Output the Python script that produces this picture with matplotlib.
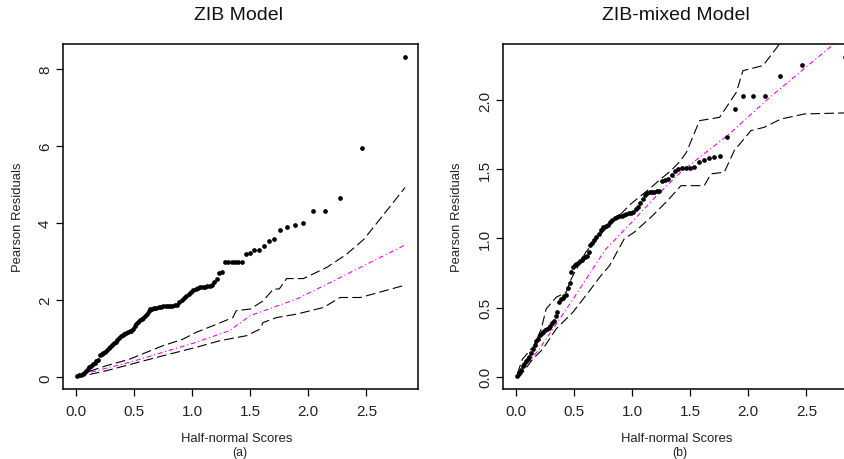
import matplotlib
matplotlib.use("Agg")
import matplotlib.pyplot as plt

plt.rcParams['font.family'] = ['Liberation Sans', 'DejaVu Sans']
plt.rcParams['lines.scale_dashes'] = False

# ---------------- data ----------------
# half-normal scores (shared by both panels)
scores = [0.01, 0.025, 0.04, 0.055, 0.07, 0.085, 0.10, 0.115, 0.13, 0.145,
          0.16, 0.175, 0.19, 0.205, 0.22, 0.235, 0.25, 0.265, 0.28, 0.295,
          0.31, 0.325, 0.34, 0.355, 0.37, 0.385, 0.40, 0.415, 0.43, 0.445,
          0.46, 0.475, 0.49, 0.505, 0.52, 0.535, 0.55, 0.565, 0.58, 0.595,
          0.61, 0.625, 0.64, 0.655, 0.67, 0.69, 0.71, 0.73, 0.75, 0.77,
          0.79, 0.81, 0.83, 0.85, 0.87, 0.89, 0.91, 0.93, 0.95, 0.97,
          0.99, 1.01, 1.03, 1.05, 1.07, 1.09, 1.11, 1.13, 1.15, 1.17,
          1.19, 1.21, 1.235, 1.26, 1.283, 1.311, 1.341, 1.369, 1.398, 1.433,
          1.465, 1.50, 1.536, 1.576, 1.616, 1.66, 1.705, 1.76, 1.818, 1.882,
          1.954, 2.04, 2.14, 2.274, 2.464, 2.834]

# (a) ZIB model: sorted absolute Pearson residuals
zib_resid = [0.03, 0.05, 0.07, 0.09, 0.12, 0.16, 0.21, 0.26, 0.30, 0.34,
             0.38, 0.42, 0.46, 0.58, 0.61, 0.63, 0.66, 0.70, 0.75, 0.80,
             0.84, 0.88, 0.93, 0.98, 1.02, 1.06, 1.10, 1.13, 1.16, 1.18,
             1.19, 1.21, 1.25, 1.32, 1.38, 1.43, 1.48, 1.51, 1.55, 1.60,
             1.65, 1.72, 1.76, 1.78, 1.79, 1.81, 1.82, 1.83, 1.84, 1.845,
             1.85, 1.855, 1.86, 1.865, 1.88, 1.95, 2.00, 2.05, 2.10, 2.16,
             2.21, 2.27, 2.30, 2.32, 2.33, 2.34, 2.35, 2.36, 2.37, 2.39,
             2.48, 2.55, 2.70, 2.74, 2.98, 2.98, 2.98, 2.98, 2.98, 2.98,
             3.19, 3.23, 3.30, 3.30, 3.40, 3.53, 3.58, 3.82, 3.89, 3.95,
             3.99, 4.31, 4.31, 4.64, 5.93, 8.31]

zib_hi_x = [0.0, 0.256, 0.458, 0.747, 0.92, 1.035, 1.18, 1.35, 1.38, 1.50,
            1.61, 1.70, 1.75, 1.813, 1.958, 2.16, 2.33, 2.48, 2.834]
zib_hi_y = [0.04, 0.30, 0.47, 0.82, 0.99, 1.17, 1.34, 1.55, 1.73, 1.77,
            1.98, 2.29, 2.29, 2.56, 2.56, 2.85, 3.19, 3.58, 4.92]

zib_mid_x = [0.0, 0.458, 0.747, 1.035, 1.32, 1.50, 1.90, 2.19, 2.834]
zib_mid_y = [0.04, 0.39, 0.65, 0.91, 1.21, 1.60, 2.03, 2.46, 3.43]

zib_lo_x = [0.0, 0.256, 0.747, 1.035, 1.237, 1.467, 1.583, 1.61, 1.727,
            1.90, 2.13, 2.275, 2.45, 2.834]
zib_lo_y = [0.0, 0.17, 0.56, 0.78, 0.95, 1.08, 1.25, 1.42, 1.55,
            1.64, 1.81, 2.07, 2.07, 2.39]

# (b) ZIB-mixed model
zibm_resid = [0.005, 0.03, 0.05, 0.075, 0.09, 0.11, 0.125, 0.14, 0.17, 0.20,
              0.23, 0.255, 0.27, 0.30, 0.315, 0.325, 0.335, 0.345, 0.352, 0.365,
              0.385, 0.405, 0.44, 0.47, 0.54, 0.56, 0.57, 0.58, 0.59, 0.64,
              0.68, 0.755, 0.79, 0.805, 0.815, 0.825, 0.835, 0.845, 0.855, 0.865,
              0.875, 0.90, 0.95, 0.97, 0.99, 1.01, 1.03, 1.06, 1.08, 1.09,
              1.10, 1.12, 1.135, 1.145, 1.155, 1.16, 1.165, 1.17, 1.175, 1.18,
              1.185, 1.19, 1.21, 1.23, 1.255, 1.285, 1.31, 1.33, 1.335, 1.337,
              1.338, 1.339, 1.34, 1.415, 1.42, 1.43, 1.46, 1.49, 1.50, 1.505,
              1.51, 1.511, 1.514, 1.555, 1.57, 1.58, 1.589, 1.598, 1.73, 1.936,
              2.027, 2.027, 2.027, 2.176, 2.254, 2.314]

zibm_hi_x = [0.01, 0.055, 0.155, 0.216, 0.259, 0.345, 0.431, 0.474, 0.60, 0.75,
             0.99, 1.147, 1.262, 1.334, 1.405, 1.466, 1.58, 1.753, 1.897, 1.954,
             2.127, 2.27, 2.464, 2.834]
zibm_hi_y = [0.02, 0.128, 0.224, 0.345, 0.49, 0.574, 0.61, 0.706, 0.90, 1.05,
             1.25, 1.357, 1.44, 1.49, 1.55, 1.62, 1.851, 1.875, 2.056, 2.212,
             2.249, 2.406, 2.70, 3.10]

zibm_mid_x = [0.01, 0.20, 0.49, 0.77, 1.0, 1.2, 1.42, 1.83, 2.20, 2.73, 2.834]
zibm_mid_y = [0.005, 0.20, 0.56, 0.92, 1.12, 1.30, 1.48, 1.75, 2.03, 2.40, 2.47]

zibm_lo_x = [0.01, 0.03, 0.144, 0.23, 0.345, 0.489, 0.633, 0.73, 0.805, 0.931,
             1.017, 1.161, 1.305, 1.42, 1.621, 1.678, 1.793, 1.879, 2.023, 2.138,
             2.282, 2.483, 2.834]
zibm_lo_y = [0.0, 0.0, 0.128, 0.20, 0.345, 0.466, 0.622, 0.73, 0.803, 0.996,
             1.044, 1.152, 1.273, 1.381, 1.381, 1.466, 1.478, 1.634, 1.779, 1.803,
             1.863, 1.899, 1.907]

xticks = [0.0, 0.5, 1.0, 1.5, 2.0, 2.5]
xticklabels = ["0.0", "0.5", "1.0", "1.5", "2.0", "2.5"]
yticks_a = [0, 2, 4, 6, 8]
yticklabels_a = ["0", "2", "4", "6", "8"]
yticks_b = [0.0, 0.5, 1.0, 1.5, 2.0]
yticklabels_b = ["0.0", "0.5", "1.0", "1.5", "2.0"]

titles = ["ZIB Model", "ZIB-mixed Model"]
xlabel = "Half-normal Scores"
ylabel = "Pearson Residuals"
subs = ["(a)", "(b)"]

# ---------------- figure ----------------
W, H = 844, 460
fig = plt.figure(figsize=(W / 100, H / 100), dpi=100)

def px(x, y):
    return x / W, 1 - y / H

ax_w = 355 / W
ax_h = 345 / H
ax_b = 70 / H
axA = fig.add_axes([63 / W, ax_b, ax_w, ax_h])
axB = fig.add_axes([503 / W, ax_b, ax_w, ax_h])

def style(ax, yt, ytl, ylim):
    ax.set_xlim(-0.113, 2.945)
    ax.set_ylim(*ylim)
    ax.set_xticks(xticks)
    ax.set_xticklabels(xticklabels)
    ax.set_yticks(yt)
    ax.set_yticklabels(ytl)
    ax.tick_params(direction='out', length=5, width=0.9, labelsize=11,
                   colors='black', labelcolor='#222222')
    ax.tick_params(axis='x', pad=6)
    ax.tick_params(axis='y', pad=3, labelrotation=90)
    for lab in ax.get_yticklabels():
        lab.set_va('center')
    for s in ax.spines.values():
        s.set_linewidth(1.1)
        s.set_color('black')

def draw(ax, resid, hx, hy, mx, my, lx, ly):
    ax.plot(hx, hy, color='black', lw=0.8, dashes=(7, 3))
    ax.plot(lx, ly, color='black', lw=0.8, dashes=(7, 3))
    ax.plot(mx, my, color='magenta', lw=0.8, dashes=(0.8, 2, 3.5, 2))
    ax.plot(scores, resid, 'o', ms=3.4, color='black', mew=0)

draw(axA, zib_resid, zib_hi_x, zib_hi_y, zib_mid_x, zib_mid_y, zib_lo_x, zib_lo_y)
draw(axB, zibm_resid, zibm_hi_x, zibm_hi_y, zibm_mid_x, zibm_mid_y, zibm_lo_x, zibm_lo_y)
style(axA, yticks_a, yticklabels_a, (-0.30, 8.635))
style(axB, yticks_b, yticklabels_b, (-0.089, 2.405))

# titles and labels
fig.text(*px(238, 20), titles[0], ha='center', va='baseline', fontsize=14, color='#111111')
fig.text(*px(676, 20), titles[1], ha='center', va='baseline', fontsize=14, color='#111111')
fig.text(*px(237, 442), xlabel, ha='center', va='baseline', fontsize=9.4, color='#222222')
fig.text(*px(677, 442), xlabel, ha='center', va='baseline', fontsize=9.4, color='#222222')
fig.text(*px(240, 456.5), subs[0], ha='center', va='baseline', fontsize=8.8, color='#222222')
fig.text(*px(680, 456.5), subs[1], ha='center', va='baseline', fontsize=8.8, color='#222222')
fig.text(*px(18, 217.5), ylabel, rotation=90, ha='center', va='center', fontsize=9.4, color='#222222')
fig.text(*px(457.5, 217.5), ylabel, rotation=90, ha='center', va='center', fontsize=9.4, color='#222222')

fig.savefig("out.png", dpi=100)
